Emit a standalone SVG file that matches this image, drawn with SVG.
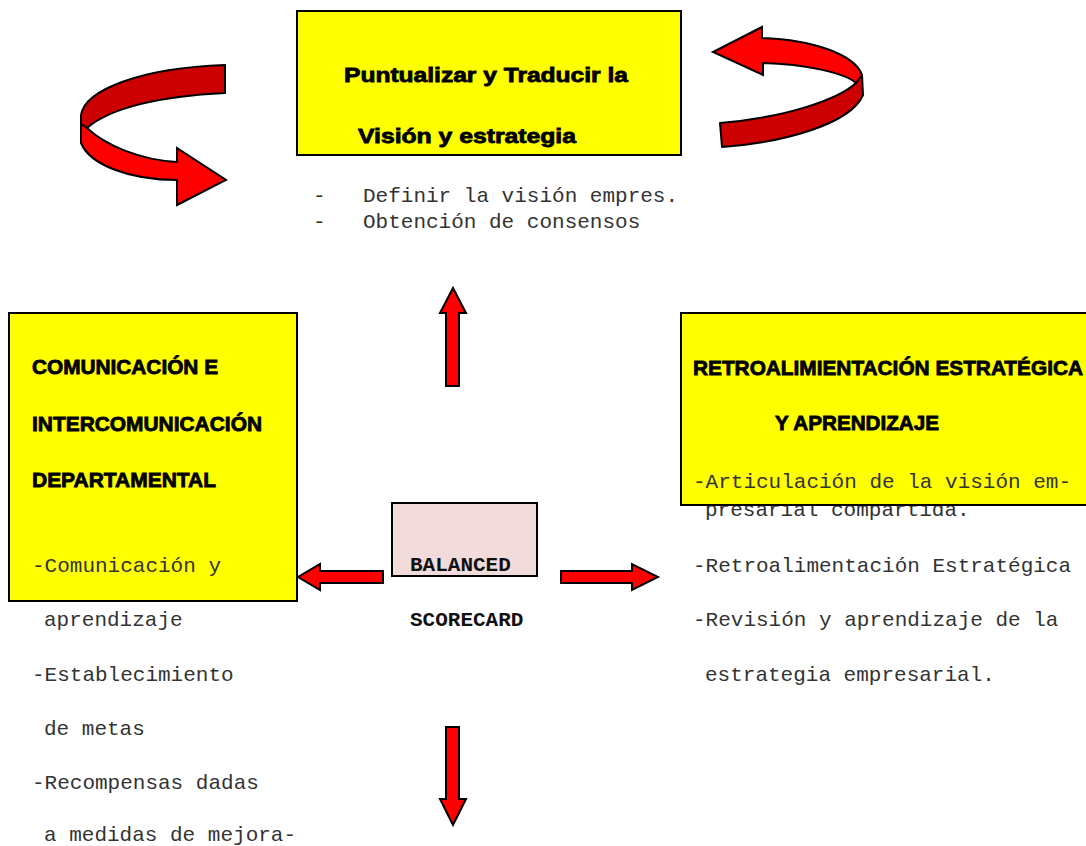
<svg xmlns="http://www.w3.org/2000/svg" width="1086" height="846" viewBox="0 0 1086 846">
  <style>
    .box { fill: #ffff00; stroke: #000; stroke-width: 2; }
    .core { fill: #f2dcdb; stroke: #000; stroke-width: 2; }
    .title { font-family: "Liberation Sans", Arial, sans-serif; font-weight: bold; font-size: 20.5px; fill: #000; stroke: #000; stroke-width: 0.8; }
    .mono { font-family: "Liberation Mono", "Courier New", monospace; font-size: 21px; fill: #333; }
    .monob { font-family: "Liberation Mono", "Courier New", monospace; font-size: 21px; font-weight: bold; fill: #111; }
    .arrow { fill: #ff0000; stroke: #000; stroke-width: 2; stroke-linejoin: miter; }
    .back { fill: #cc0000; stroke: #000; stroke-width: 2; stroke-linejoin: round; }
  </style>

  <rect width="1086" height="846" fill="#fff"/>

  <!-- Top node: vision and strategy -->
  <g id="node-vision">
    <rect class="box" x="297" y="11" width="384" height="144"/>
    <text class="title" x="344" y="82" textLength="284" lengthAdjust="spacingAndGlyphs">Puntualizar y Traducir la</text>
    <text class="title" x="358" y="143" textLength="218" lengthAdjust="spacingAndGlyphs">Visión y estrategia</text>
    <text class="mono" x="313" y="202">-</text>
    <text class="mono" x="363" y="202">Definir la visión empres.</text>
    <text class="mono" x="313" y="228">-</text>
    <text class="mono" x="363" y="228">Obtención de consensos</text>
  </g>

  <!-- Left node: communication -->
  <g id="node-comunicacion">
    <rect class="box" x="9" y="313" width="288" height="288"/>
    <text class="title" x="32" y="374" textLength="186" lengthAdjust="spacingAndGlyphs">COMUNICACIÓN E</text>
    <text class="title" x="32" y="431" textLength="230" lengthAdjust="spacingAndGlyphs">INTERCOMUNICACIÓN</text>
    <text class="title" x="32" y="487" textLength="184" lengthAdjust="spacingAndGlyphs">DEPARTAMENTAL</text>
    <text class="mono" x="32" y="572">-Comunicación y</text>
    <text class="mono" x="44" y="626">aprendizaje</text>
    <text class="mono" x="32" y="681">-Establecimiento</text>
    <text class="mono" x="44" y="735">de metas</text>
    <text class="mono" x="32" y="789">-Recompensas dadas</text>
    <text class="mono" x="44" y="841">a medidas de mejora-</text>
  </g>

  <!-- Right node: strategic feedback -->
  <g id="node-retroalimentacion">
    <text class="mono" x="705" y="516">presarial compartida.</text>
    <rect class="box" x="681" y="313" width="410" height="192"/>
    <text class="title" x="693" y="375" textLength="390" lengthAdjust="spacingAndGlyphs">RETROALIMIENTACIÓN ESTRATÉGICA</text>
    <text class="title" x="775" y="430" textLength="164" lengthAdjust="spacingAndGlyphs">Y APRENDIZAJE</text>
    <text class="mono" x="693" y="488">-Articulación de la visión em-</text>
    <text class="mono" x="693" y="572">-Retroalimentación Estratégica</text>
    <text class="mono" x="693" y="626">-Revisión y aprendizaje de la</text>
    <text class="mono" x="705" y="681">estrategia empresarial.</text>
  </g>

  <!-- Centre node -->
  <g id="node-balanced">
    <rect class="core" x="392" y="503" width="145" height="73"/>
    <text class="monob" x="410" y="571">BALANCED</text>
    <text class="monob" x="410" y="626">SCORECARD</text>
  </g>

  <!-- Connectors -->
  <g id="connectors">
    <!-- up -->
    <path class="arrow" d="M446,386 L446,313 L440,313 L453,288 L466,313 L459,313 L459,386 Z"/>
    <!-- down -->
    <path class="arrow" d="M446,727 L459,727 L459,799 L466,799 L453,825 L440,799 L446,799 Z"/>
    <!-- left -->
    <path class="arrow" d="M383,571 L320,571 L320,564 L298,577 L320,590 L320,583 L383,583 Z"/>
    <!-- right -->
    <path class="arrow" d="M561,571 L632,571 L632,564 L658,577 L632,590 L632,583 L561,583 Z"/>

    <!-- curved arrow, upper left -->
    <path class="back" d="M225,65 L225,93 C160,96 110,108 87,128 L81,124 L81,115 C85,90 140,68 225,65 Z"/>
    <path class="arrow" d="M81,124 L87,128 C105,145 140,160 177,162 L177,148 L226,180 L177,205 L177,180 C130,180 90,165 81,143 Z"/>

    <!-- curved arrow, upper right -->
    <path class="back" d="M862,75 L856,83 C840,98 790,117 720,123 L722,147 C780,143 850,125 863,95 Z"/>
    <path class="arrow" d="M762,38 C815,40 855,55 862,75 L856,83 C845,73 805,64 763,63 L763,75 L713,52 L762,27 Z"/>
  </g>
</svg>
